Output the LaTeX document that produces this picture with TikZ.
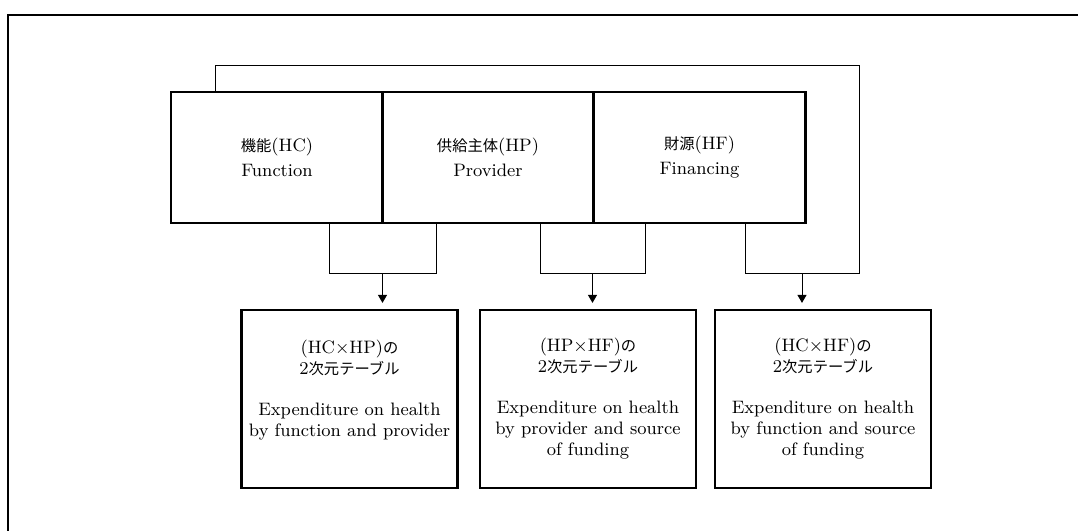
\documentclass[tikz,border=0pt]{standalone}
\usepackage{fontspec}
\newfontfamily\cjk[Scale=0.85]{Noto Sans CJK JP}
\usetikzlibrary{arrows.meta}

\begin{document}
\begin{tikzpicture}[x=.5pt,y=-.5pt,
  topbox/.style={draw,line width=1.1pt,minimum width=106pt,minimum height=65.5pt,align=center,font=\fontsize{9}{12.5}\selectfont},
  tabbox/.style={draw,line width=1.1pt,minimum width=108pt,minimum height=89pt,align=center,font=\fontsize{9}{10.5}\selectfont},
  link/.style={line width=.5pt},
  arr/.style={link,-{Triangle[length=4pt,width=4.5pt]},shorten >=3pt}]
\useasboundingbox (0,0) rectangle (1078,531);
\draw[line width=.7pt] (1078,15) -- (8,15) -- (8,531);
\node[topbox] (hc) at (277,157.5) {{\cjk 機能}(HC)\\Function};
\node[topbox] (hp) at (488,157.5) {{\cjk 供給主体}(HP)\\Provider};
\node[topbox] (hf) at (699.5,157.5) {{\cjk 財源}(HF)\\Financing};
\node[tabbox] (hchp) at (349.5,399) {(HC×HP){\cjk の}\\2{\cjk 次元テーブル}\\[10pt]Expenditure on health\\by function and provider\\\mbox{}};
\node[tabbox] (hphf) at (588,399) {(HP×HF){\cjk の}\\2{\cjk 次元テーブル}\\[10pt]Expenditure on health\\by provider and source\\of funding};
\node[tabbox] (hchf) at (823,399) {(HC×HF){\cjk の}\\2{\cjk 次元テーブル}\\[10pt]Expenditure on health\\by function and source\\of funding};
\coordinate (a1) at (329,273); \coordinate (a2) at (436,273); \coordinate (m1) at (382.5,273);
\coordinate (a3) at (540,273); \coordinate (a4) at (645,273); \coordinate (m2) at (592.5,273);
\coordinate (f1) at (215,65); \coordinate (f2) at (859,273); \coordinate (a5) at (745,273); \coordinate (m3) at (802,273);
\draw[link] (hc.south -| a1) -- (a1) -- (a2) -- (hp.south -| a2);
\draw[link] (hp.south -| a3) -- (a3) -- (a4) -- (hf.south -| a4);
\draw[link] (hc.north -| f1) -- (f1) -| (f2) -- (a5) -- (hf.south -| a5);
\draw[arr] (m1) -- (m1 |- hchp.north);
\draw[arr] (m2) -- (m2 |- hphf.north);
\draw[arr] (m3) -- (m3 |- hchf.north);
\end{tikzpicture}
\end{document}
